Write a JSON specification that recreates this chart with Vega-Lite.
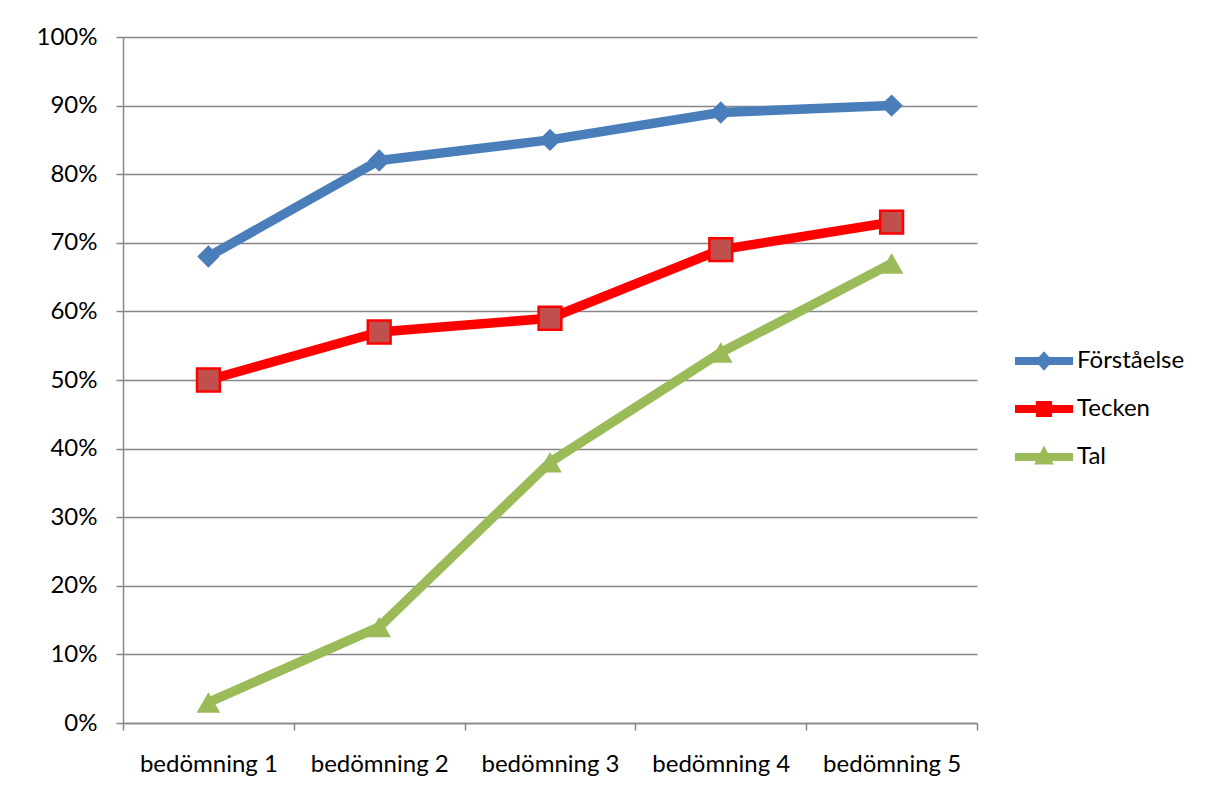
{
  "$schema": "https://vega.github.io/schema/vega-lite/v6.json",
  "width": 854,
  "height": 686,
  "autosize": "none",
  "padding": {"left": 123, "top": 37, "right": 242, "bottom": 80},
  "background": "white",
  "data": {
    "values": [
      {"assessment": "bedömning 1", "series": "Förståelse", "share": 0.68},
      {"assessment": "bedömning 2", "series": "Förståelse", "share": 0.82},
      {"assessment": "bedömning 3", "series": "Förståelse", "share": 0.85},
      {"assessment": "bedömning 4", "series": "Förståelse", "share": 0.89},
      {"assessment": "bedömning 5", "series": "Förståelse", "share": 0.90},
      {"assessment": "bedömning 1", "series": "Tecken", "share": 0.50},
      {"assessment": "bedömning 2", "series": "Tecken", "share": 0.57},
      {"assessment": "bedömning 3", "series": "Tecken", "share": 0.59},
      {"assessment": "bedömning 4", "series": "Tecken", "share": 0.69},
      {"assessment": "bedömning 5", "series": "Tecken", "share": 0.73},
      {"assessment": "bedömning 1", "series": "Tal", "share": 0.03},
      {"assessment": "bedömning 2", "series": "Tal", "share": 0.14},
      {"assessment": "bedömning 3", "series": "Tal", "share": 0.38},
      {"assessment": "bedömning 4", "series": "Tal", "share": 0.54},
      {"assessment": "bedömning 5", "series": "Tal", "share": 0.67}
    ]
  },
  "encoding": {
    "x": {
      "field": "assessment",
      "type": "nominal",
      "bandPosition": 0.5,
      "scale": {"type": "band", "paddingInner": 0, "paddingOuter": 0},
      "axis": {
        "title": null,
        "labelAngle": 0,
        "tickBand": "extent",
        "grid": false,
        "tickSize": 7,
        "labelPadding": 22
      }
    },
    "y": {
      "field": "share",
      "type": "quantitative",
      "scale": {"domain": [0, 1], "nice": false},
      "axis": {
        "title": null,
        "format": "%",
        "values": [0, 0.1, 0.2, 0.3, 0.4, 0.5, 0.6, 0.7, 0.8, 0.9, 1],
        "tickSize": 7,
        "labelPadding": 19
      }
    }
  },
  "layer": [
    {
      "mark": {"type": "line", "strokeWidth": 9.5, "strokeJoin": "round"},
      "encoding": {
        "color": {
          "field": "series",
          "type": "nominal",
          "scale": {
            "domain": ["Förståelse", "Tecken", "Tal"],
            "range": ["#4a7ebb", "#ff0000", "#9bbb59"]
          },
          "legend": {
            "title": null,
            "orient": "none",
            "legendX": 892,
            "legendY": 295,
            "symbolSize": 3364,
            "labelOffset": 4,
            "rowPadding": 7,
            "encode": {
              "symbols": {
                "update": {
                  "fill": {"scale": "color", "field": "value"},
                  "stroke": {"value": "transparent"},
                  "strokeWidth": {"value": 0},
                  "shape": {
                    "signal": "datum.value == 'Förståelse' ? 'M-1,-0.14L1,-0.14L1,0.14L-1,0.14ZM0,-0.34L0.3,0L0,0.34L-0.3,0Z' : datum.value == 'Tecken' ? 'M-1,-0.14L1,-0.14L1,0.14L-1,0.14ZM-0.28,-0.28L0.28,-0.28L0.28,0.28L-0.28,0.28Z' : 'M-1,-0.14L1,-0.14L1,0.14L-1,0.14ZM0,-0.4L0.34,0.26L-0.34,0.26Z'"
                  }
                }
              }
            }
          }
        }
      }
    },
    {
      "transform": [{"filter": "datum.series == 'Förståelse'"}],
      "mark": {"type": "point", "shape": "diamond", "filled": true, "opacity": 1, "size": 500, "color": "#4a7ebb"}
    },
    {
      "transform": [{"filter": "datum.series == 'Tecken'"}],
      "mark": {"type": "point", "shape": "square", "filled": true, "opacity": 1, "size": 520, "fill": "#c0504d", "stroke": "#ff0000", "strokeWidth": 2.5}
    },
    {
      "transform": [{"filter": "datum.series == 'Tal'"}],
      "mark": {"type": "point", "shape": "triangle-up", "filled": true, "opacity": 1, "size": 560, "color": "#9bbb59"}
    }
  ],
  "config": {
    "font": "Lato",
    "view": {"stroke": null},
    "axis": {
      "labelFont": "Lato",
      "labelFontSize": 24,
      "labelColor": "#000000",
      "domainColor": "#878787",
      "domainWidth": 1.5,
      "tickColor": "#878787",
      "tickWidth": 1.5,
      "gridColor": "#878787",
      "gridWidth": 1.5,
      "gridOpacity": 1
    },
    "legend": {
      "labelFont": "Lato",
      "labelFontSize": 24,
      "labelColor": "#000000"
    }
  }
}
